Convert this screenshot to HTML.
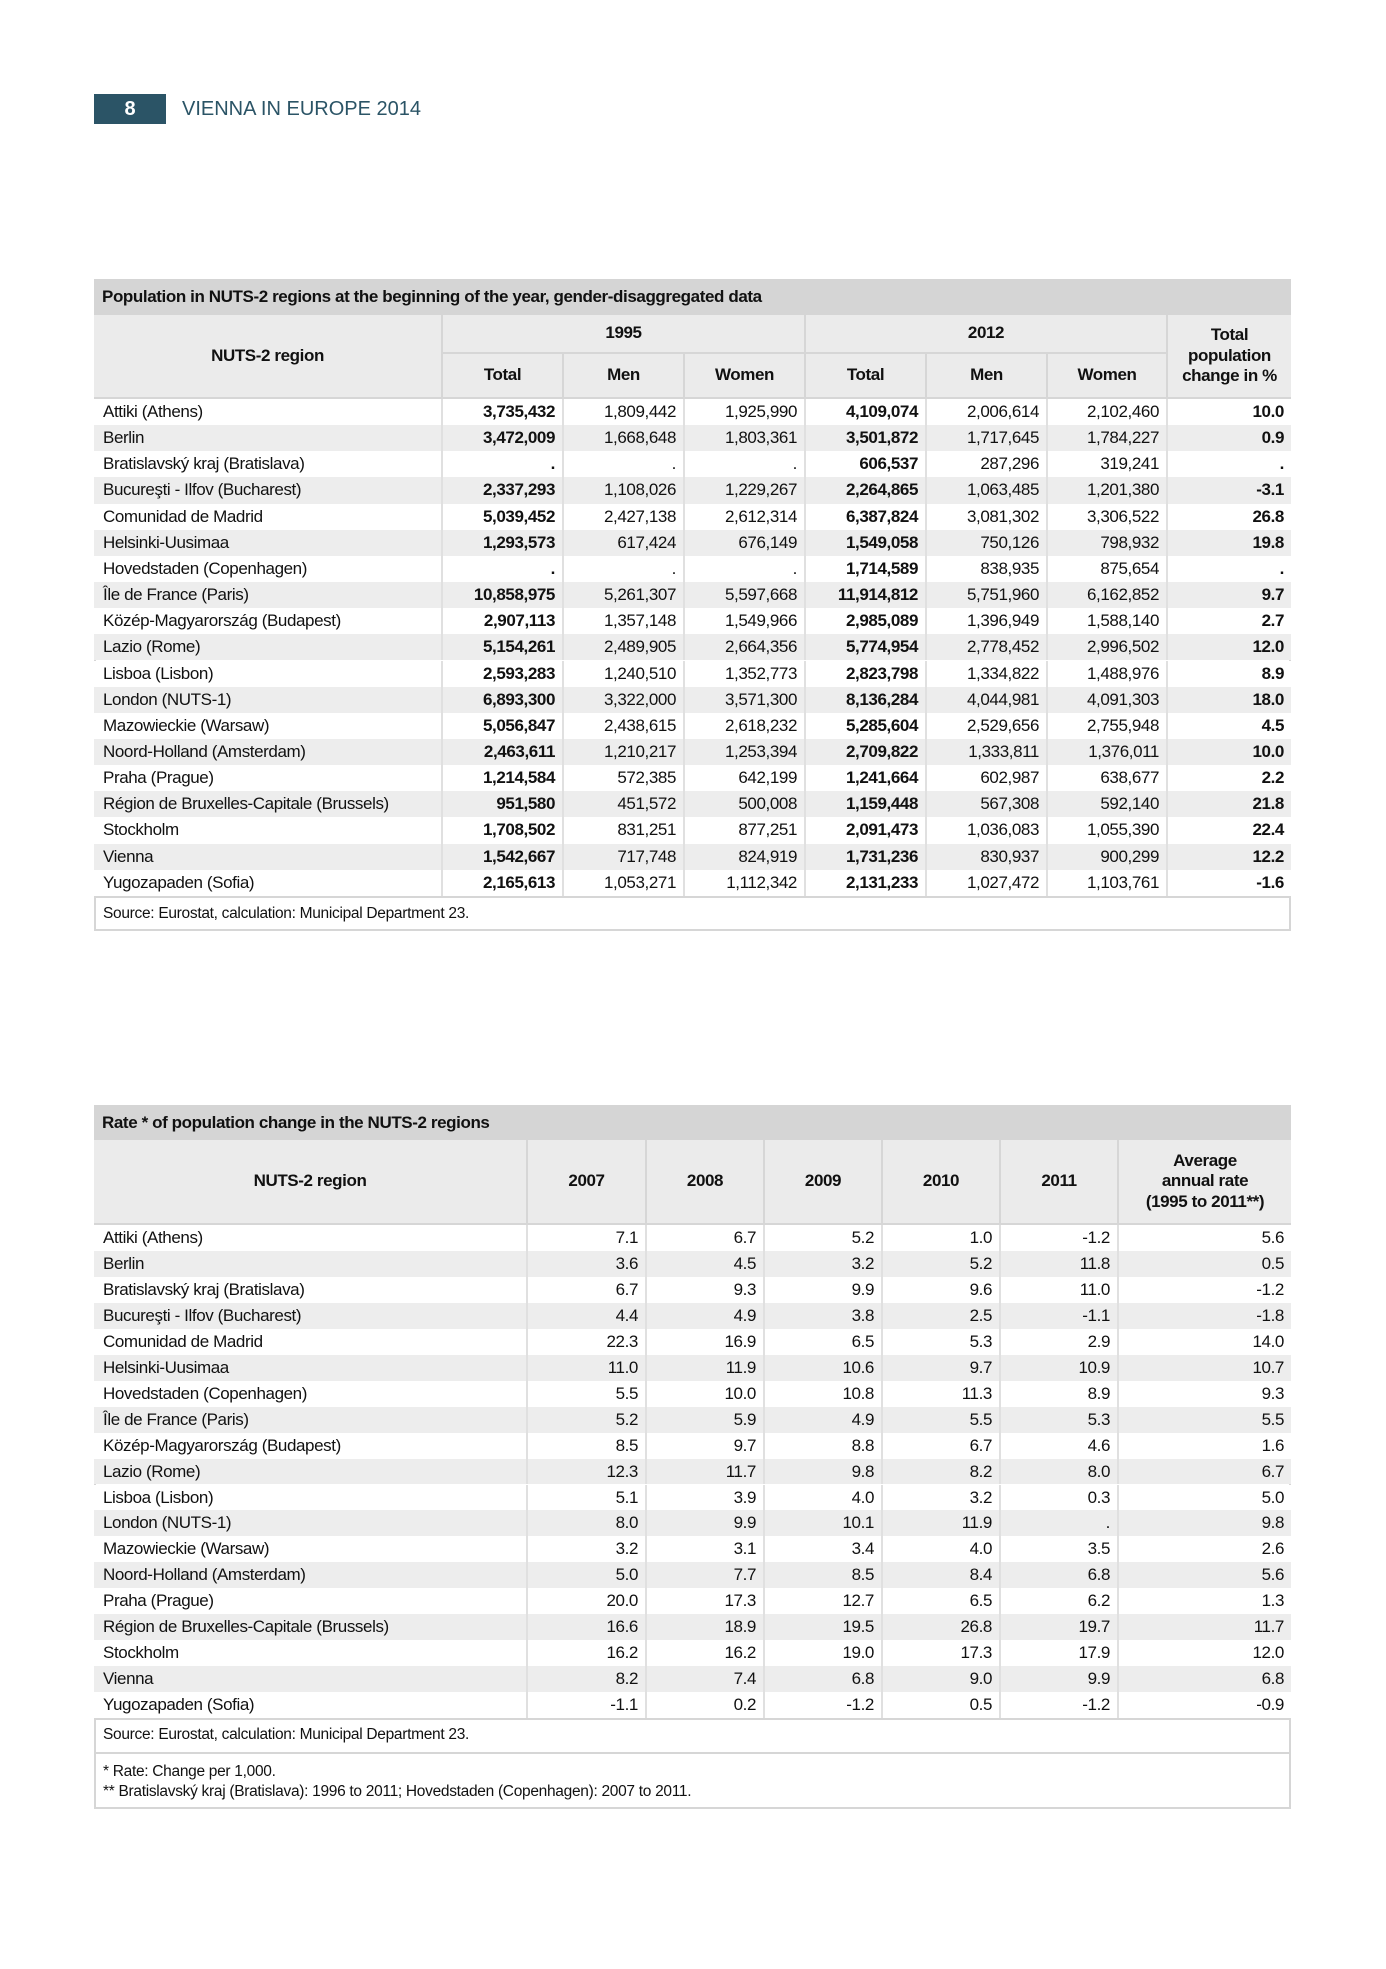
<!DOCTYPE html>
<html><head><meta charset="utf-8">
<style>
body{margin:0;width:1386px;height:1969px;background:#fff;position:relative;font-family:"Liberation Sans",sans-serif;color:#111;overflow:hidden}
.abs{position:absolute;box-sizing:border-box}
.c{position:absolute;box-sizing:border-box;white-space:nowrap;font-size:17px;letter-spacing:-0.4px;overflow:hidden}
.r{text-align:right;padding-right:7px}
.b{font-weight:bold}
.h{font-weight:bold;text-align:center;display:flex;align-items:center;justify-content:center;line-height:1.2;background:#ebebeb;border-right:2px solid #d6d6d6;border-bottom:2px solid #d6d6d6;font-size:17px;letter-spacing:-0.4px}
</style></head><body>
<div class="abs" style="left:94px;top:94px;width:72px;height:30px;background:#2b5466;color:#fff;font-weight:bold;font-size:20px;text-align:center;line-height:30px">8</div>
<div class="abs" style="left:182px;top:94px;height:30px;line-height:30px;color:#2b5466;font-size:20px">VIENNA IN EUROPE 2014</div>
<div id="t1"></div>
<div id="t2"></div>
<script>
const regions=["Attiki (Athens)","Berlin","Bratislavský kraj (Bratislava)","Bucureşti - Ilfov (Bucharest)","Comunidad de Madrid","Helsinki-Uusimaa","Hovedstaden (Copenhagen)","Île de France (Paris)","Közép-Magyarország (Budapest)","Lazio (Rome)","Lisboa (Lisbon)","London (NUTS-1)","Mazowieckie (Warsaw)","Noord-Holland (Amsterdam)","Praha (Prague)","Région de Bruxelles-Capitale (Brussels)","Stockholm","Vienna","Yugozapaden (Sofia)"];
const tot1995=["3,735,432","3,472,009",".","2,337,293","5,039,452","1,293,573",".","10,858,975","2,907,113","5,154,261","2,593,283","6,893,300","5,056,847","2,463,611","1,214,584","951,580","1,708,502","1,542,667","2,165,613"];
const men1995=["1,809,442","1,668,648",".","1,108,026","2,427,138","617,424",".","5,261,307","1,357,148","2,489,905","1,240,510","3,322,000","2,438,615","1,210,217","572,385","451,572","831,251","717,748","1,053,271"];
const women1995=["1,925,990","1,803,361",".","1,229,267","2,612,314","676,149",".","5,597,668","1,549,966","2,664,356","1,352,773","3,571,300","2,618,232","1,253,394","642,199","500,008","877,251","824,919","1,112,342"];
const tot2012=["4,109,074","3,501,872","606,537","2,264,865","6,387,824","1,549,058","1,714,589","11,914,812","2,985,089","5,774,954","2,823,798","8,136,284","5,285,604","2,709,822","1,241,664","1,159,448","2,091,473","1,731,236","2,131,233"];
const men2012=["2,006,614","1,717,645","287,296","1,063,485","3,081,302","750,126","838,935","5,751,960","1,396,949","2,778,452","1,334,822","4,044,981","2,529,656","1,333,811","602,987","567,308","1,036,083","830,937","1,027,472"];
const women2012=["2,102,460","1,784,227","319,241","1,201,380","3,306,522","798,932","875,654","6,162,852","1,588,140","2,996,502","1,488,976","4,091,303","2,755,948","1,376,011","638,677","592,140","1,055,390","900,299","1,103,761"];
const changePct=["10.0","0.9",".","-3.1","26.8","19.8",".","9.7","2.7","12.0","8.9","18.0","4.5","10.0","2.2","21.8","22.4","12.2","-1.6"];
const r2007=["7.1","3.6","6.7","4.4","22.3","11.0","5.5","5.2","8.5","12.3","5.1","8.0","3.2","5.0","20.0","16.6","16.2","8.2","-1.1"];
const r2008=["6.7","4.5","9.3","4.9","16.9","11.9","10.0","5.9","9.7","11.7","3.9","9.9","3.1","7.7","17.3","18.9","16.2","7.4","0.2"];
const r2009=["5.2","3.2","9.9","3.8","6.5","10.6","10.8","4.9","8.8","9.8","4.0","10.1","3.4","8.5","12.7","19.5","19.0","6.8","-1.2"];
const r2010=["1.0","5.2","9.6","2.5","5.3","9.7","11.3","5.5","6.7","8.2","3.2","11.9","4.0","8.4","6.5","26.8","17.3","9.0","0.5"];
const r2011=["-1.2","11.8","11.0","-1.1","2.9","10.9","8.9","5.3","4.6","8.0","0.3",".","3.5","6.8","6.2","19.7","17.9","9.9","-1.2"];
const rAvg=["5.6","0.5","-1.2","-1.8","14.0","10.7","9.3","5.5","1.6","6.7","5.0","9.8","2.6","5.6","1.3","11.7","12.0","6.8","-0.9"];

function box(parent,x,y,w,h,cls,txt,name,style){
  const d=document.createElement('div');
  d.className=cls;
  
  
  d.style.cssText=`left:${x}px;top:${y}px;width:${w}px;height:${h}px;`+(style||'');
  d.textContent=txt;
  document.body.appendChild(d);
  return d;
}
const L=94,R=1291,W=R-L;
function table(cfg){
  box(null,L,cfg.top,W,cfg.bottom-cfg.top,'abs','', cfg.pre+'-frame','border:2px solid #d6d6d6;');
  box(null,L,cfg.top,W,cfg.titleH,'abs',cfg.title,cfg.pre+'-title','background:#d5d5d5;font-weight:bold;font-size:17px;letter-spacing:-0.4px;padding-left:8px;line-height:'+cfg.titleH+'px;');
  cfg.headers(cfg.top+cfg.titleH);
  const y0=cfg.rowTop, rh=cfg.rowH, cols=cfg.cols;
  regions.forEach((reg,i)=>{
    const y=y0+i*rh;
    box(null,L,y,W,rh,'abs','',cfg.pre+'-row-bg','background:'+(i%2?'#ededed':'#fff')+';');
    box(null,L,y,cols[1]-L,rh,'c',reg,cfg.pre+'-region-label','padding-left:9px;line-height:'+rh+'px;border-right:2px solid #e0e0e0;');
    cfg.series.forEach((s,j)=>{
      box(null,cols[j+1],y,cols[j+2]-cols[j+1],rh,'c r'+(s.bold?' b':''),s.data[i],cfg.pre+'-cell-'+s.name,'line-height:'+rh+'px;'+(j<cfg.series.length-1?'border-right:2px solid #e0e0e0;':''));
    });
  });
  const sy=y0+regions.length*rh;
  box(null,L,sy,W,2,'abs','',cfg.pre+'-divider','background:#d6d6d6;');
  box(null,L,sy,W,cfg.srcH,'abs','Source: Eurostat, calculation: Municipal Department 23.',cfg.pre+'-source','font-size:15.5px;letter-spacing:-0.3px;padding-left:9px;line-height:'+cfg.srcH+'px;');
}
const c1=[94,443,564,685,806,927,1048,1168,1291];
table({pre:'t1',top:279,bottom:931,titleH:36,rowTop:399,rowH:26.15,srcH:35,cols:c1,
 title:'Population in NUTS-2 regions at the beginning of the year, gender-disaggregated data',
 headers:(y)=>{
  box(null,94,y,c1[1]-94,399-y,'abs h','NUTS-2 region','header-region');
  box(null,c1[1],y,c1[4]-c1[1],39,'abs h','1995','header-1995');
  box(null,c1[4],y,c1[7]-c1[4],39,'abs h','2012','header-2012');
  const sub=['Total','Men','Women','Total','Men','Women'];
  sub.forEach((t,k)=>box(null,c1[k+1],y+39,c1[k+2]-c1[k+1],399-y-39,'abs h',t,'header-'+t.toLowerCase()));
  const d=box(null,c1[7],y,R-c1[7],399-y,'abs h','','header-change','border-right:none;');
  d.innerHTML='Total<br>population<br>change in %';
 },
 series:[{name:'total-1995',data:tot1995,bold:1},{name:'men-1995',data:men1995},{name:'women-1995',data:women1995},{name:'total-2012',data:tot2012,bold:1},{name:'men-2012',data:men2012},{name:'women-2012',data:women2012},{name:'change',data:changePct,bold:1}]});
const c2=[94,528,647,765,883,1001,1119,1291];
table({pre:'t2',top:1105,bottom:1809,titleH:35,rowTop:1225,rowH:25.95,srcH:34,cols:c2,
 title:'Rate * of population change in the NUTS-2 regions',
 headers:(y)=>{
  box(null,94,y,c2[1]-94,1225-y,'abs h','NUTS-2 region','header-region');
  ['2007','2008','2009','2010','2011'].forEach((t,k)=>box(null,c2[k+1],y,c2[k+2]-c2[k+1],1225-y,'abs h',t,'header-'+t));
  const d=box(null,c2[6],y,R-c2[6],1225-y,'abs h','','header-average','border-right:none;');
  d.innerHTML='Average<br>annual rate<br>(1995 to 2011**)';
 },
 series:[{name:'2007',data:r2007},{name:'2008',data:r2008},{name:'2009',data:r2009},{name:'2010',data:r2010},{name:'2011',data:r2011},{name:'average',data:rAvg}]});
box(null,94,1752,W,2,'abs','','t2-footnote-divider','background:#d6d6d6;');
const fn=box(null,94,1756,W,52,'abs','','t2-footnotes','font-size:15.5px;letter-spacing:-0.3px;padding-left:9px;padding-top:6px;line-height:20px;');
fn.innerHTML='* Rate: Change per 1,000.<br>** Bratislavský kraj (Bratislava): 1996 to 2011; Hovedstaden (Copenhagen): 2007 to 2011.';
</script>
</body></html>
